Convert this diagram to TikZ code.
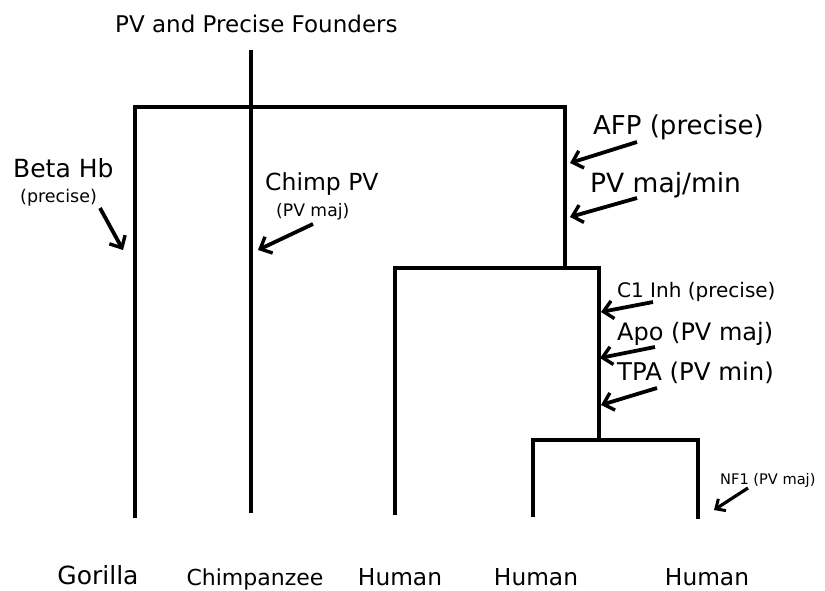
\documentclass[tikz,border=0pt]{standalone}
\usepackage{fontspec}
\setmainfont{DejaVu Sans}
\usetikzlibrary{arrows.meta}
\begin{document}
\begin{tikzpicture}[x=1pt,y=-1pt,
  tree/.style={line width=3.3pt, line join=miter},
  ptr/.style={line width=3.8pt, -{Straight Barb[length=9.5pt,width=18pt,line width=3.4pt]}},
  lab/.style={anchor=base west, inner sep=0pt, font=\fontsize{#1pt}{#1pt}\selectfont},
  leaf/.style={anchor=base, inner sep=0pt, font=\fontsize{#1pt}{#1pt}\selectfont}]
\useasboundingbox (0,0) rectangle (825,591);

% tree coordinates
\coordinate (cTop) at (251,50);
\coordinate (cB) at (251,513);
\coordinate (gT) at (135,107);
\coordinate (gB) at (135,518);
\coordinate (r1T) at (565,107);
\coordinate (r1B) at (565,268);
\coordinate (h1T) at (395,268);
\coordinate (h1B) at (395,515);
\coordinate (r2T) at (599,268);
\coordinate (r2B) at (599,440);
\coordinate (h2T) at (533,440);
\coordinate (h2B) at (533,517);
\coordinate (h3T) at (698,440);
\coordinate (h3B) at (698,519);

\draw[tree] (gB) -- (gT) -- (r1T) -- (r1B);
\draw[tree] (cTop) -- (cB);
\draw[tree] (h1B) -- (h1T) -- (r2T) -- (r2B);
\draw[tree] (h2B) -- (h2T) -- (h3T) -- (h3B);

% labels
\node[lab=23] (title) at (115,33) {PV and Precise Founders};
\node[lab=25] (beta) at (13,178) {Beta Hb};
\node[lab=17.5] (betap) at (20,203) {(precise)};
\node[lab=23.5] (chimp) at (265,190) {Chimp PV};
\node[lab=17.2] (chimpp) at (276,216) {(PV maj)};
\node[lab=26] (afp) at (593,135) {AFP (precise)};
\node[lab=26.5] (pvmm) at (590,193) {PV maj/min};
\node[lab=20] (c1) at (617,297) {C1 Inh (precise)};
\node[lab=24] (apo) at (617,340) {Apo (PV maj)};
\node[lab=24.4] (tpa) at (617,380) {TPA (PV min)};
\node[lab=14.6] (nf1) at (720,484) {NF1 (PV maj)};

\node[leaf=25] (gor) at (98,584) {Gorilla};
\node[leaf=22] (chz) at (255,585) {Chimpanzee};
\node[leaf=23.3] (hu1) at (400,585) {Human};
\node[leaf=23.3] (hu2) at (536,585) {Human};
\node[leaf=23.3] (hu3) at (707,585) {Human};

% arrows
\coordinate (aBt) at (100,208); \coordinate (aBh) at (123,250);
\coordinate (aCt) at (313,224); \coordinate (aCh) at (258,250);
\coordinate (aAt) at (637,142); \coordinate (aAh) at (570,163);
\coordinate (aPt) at (637,198); \coordinate (aPh) at (570,217);
\coordinate (a1t) at (653,302); \coordinate (a1h) at (601,312);
\coordinate (a2t) at (655,347); \coordinate (a2h) at (600,358);
\coordinate (a3t) at (657,388); \coordinate (a3h) at (601,405);
\coordinate (a4t) at (748,488); \coordinate (a4h) at (714,510);

\draw[ptr] (aBt) -- (aBh);
\draw[ptr] (aCt) -- (aCh);
\draw[ptr] (aAt) -- (aAh);
\draw[ptr] (aPt) -- (aPh);
\draw[ptr] (a1t) -- (a1h);
\draw[ptr] (a2t) -- (a2h);
\draw[ptr] (a3t) -- (a3h);
\draw[ptr, line width=3.2pt, -{Straight Barb[length=7.5pt,width=14pt,line width=3pt]}] (a4t) -- (a4h);
\end{tikzpicture}
\end{document}
